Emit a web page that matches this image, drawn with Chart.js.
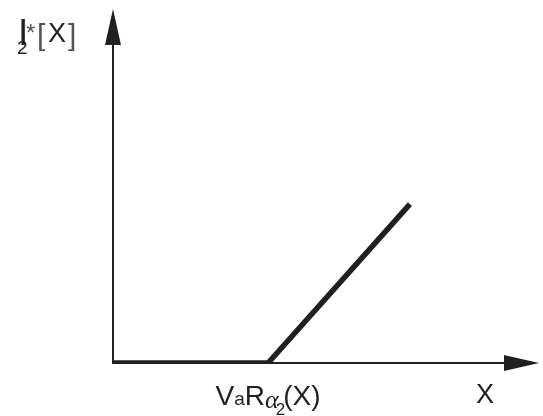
<!DOCTYPE html>
<html>
<head>
<meta charset="utf-8">
<script src="https://cdn.jsdelivr.net/npm/chart.js@4"></script>
<style>
  html, body { margin: 0; padding: 0; background: #fff; }
  #wrap { width: 543px; height: 416px; position: relative; }
</style>
</head>
<body>
<div id="wrap"><canvas id="chart"></canvas></div>
<script>
// payoff curve: flat up to VaR, then rising
const xPoints = [0, 3.64, 6.97];
const yPoints = [0, 0, 4.49];
const varValue = 3.64;       // where the label sits on the x axis
const xAxisName = 'X';
const yAxisName = ['I', '2', '*', '[', 'X', ']'];

const ink = '#231f20';

// axes with arrow heads + labels, drawn by hand
const axesPlugin = {
    id: 'arrowAxes',
    beforeDatasetsDraw(chart) {
        const ctx = chart.ctx;
        const xs = chart.scales.x, ys = chart.scales.y;
        const ox = xs.getPixelForValue(0);
        const oy = ys.getPixelForValue(0);
        const xEnd = xs.getPixelForValue(xs.max);
        const yEnd = ys.getPixelForValue(ys.max);
        ctx.save();
        ctx.strokeStyle = ink;
        ctx.fillStyle = ink;
        ctx.lineWidth = 2;
        ctx.beginPath();
        ctx.moveTo(ox, oy + 1);
        ctx.lineTo(ox, yEnd + 30);
        ctx.moveTo(ox - 1, oy);
        ctx.lineTo(xEnd - 30, oy);
        ctx.stroke();
        // y arrow
        ctx.beginPath();
        ctx.moveTo(ox, yEnd);
        ctx.lineTo(ox - 8, yEnd + 36);
        ctx.lineTo(ox + 8, yEnd + 36);
        ctx.closePath();
        ctx.fill();
        // x arrow
        ctx.beginPath();
        ctx.moveTo(xEnd, oy);
        ctx.lineTo(xEnd - 35, oy - 8);
        ctx.lineTo(xEnd - 35, oy + 8);
        ctx.closePath();
        ctx.fill();
        ctx.restore();
    },
    afterDraw(chart) {
        const ctx = chart.ctx;
        const xs = chart.scales.x;
        const font = 'Liberation Sans, Arial, sans-serif';
        ctx.save();
        ctx.fillStyle = ink;
        ctx.textBaseline = 'alphabetic';
        ctx.textAlign = 'left';

        // y axis title I2*[X]
        ctx.font = '37px ' + font;
        ctx.fillText(yAxisName[0], 18, 45);
        ctx.font = '19px ' + font;
        ctx.fillText(yAxisName[1], 17, 54);
        ctx.font = '24px ' + font;
        ctx.fillStyle = '#555';
        ctx.fillText(yAxisName[2], 26, 41);
        ctx.font = '30px ' + font;
        ctx.fillText(yAxisName[3], 37, 45);
        ctx.fillText(yAxisName[5], 68, 45);
        ctx.fillStyle = ink;
        ctx.font = '27px ' + font;
        ctx.fillText(yAxisName[4], 48, 42);

        // x axis name
        ctx.font = '27px ' + font;
        ctx.textAlign = 'center';
        ctx.fillText(xAxisName, 485, 403);

        // VaR label, centred on the kink
        ctx.textAlign = 'left';
        const parts = [
            { t: 'V', f: '28px ' + font, dy: 0 },
            { t: 'a', f: '19px ' + font, dy: 0 },
            { t: 'R', f: '28px ' + font, dy: 0 },
            { t: 'α', f: 'italic 26px Liberation Serif, serif', dy: 3 },
            { t: '2', f: '17px ' + font, dy: 10, back: 3 },
            { t: '(X)', f: '28px ' + font, dy: 0, back: 2 }
        ];
        let total = 0;
        parts.forEach(p => { ctx.font = p.f; p.w = ctx.measureText(p.t).width; total += p.w - (p.back || 0); });
        let x = xs.getPixelForValue(varValue) - total / 2;
        parts.forEach(p => {
            ctx.font = p.f;
            x -= (p.back || 0);
            ctx.fillText(p.t, x, 405 + p.dy);
            x += p.w;
        });
        ctx.restore();
    }
};

new Chart(document.getElementById('chart'), {
    type: 'line',
    data: {
        datasets: [{
            data: xPoints.map((x, i) => ({ x: x, y: yPoints[i] })),
            borderColor: ink,
            borderWidth: 5.5,
            borderCapStyle: 'butt',
            borderJoinStyle: 'miter',
            pointRadius: 0,
            tension: 0,
            fill: false
        }]
    },
    options: {
        responsive: true,
        maintainAspectRatio: false,
        animation: false,
        layout: {
            autoPadding: false,
            padding: { left: 113, right: 4, top: 9, bottom: 53 }
        },
        plugins: {
            legend: { display: false },
            tooltip: { enabled: false }
        },
        scales: {
            x: { type: 'linear', min: 0, max: 10, display: false },
            y: { type: 'linear', min: 0, max: 10, display: false }
        }
    },
    plugins: [axesPlugin]
});
</script>
</body>
</html>
